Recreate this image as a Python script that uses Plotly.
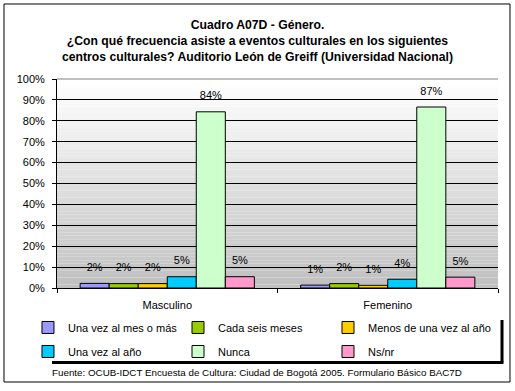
import plotly.graph_objects as go

categories = ["Masculino", "Femenino"]
series_names = ["Una vez al mes o más", "Cada seis meses", "Menos de una vez al año",
                "Una vez al año", "Nunca", "Ns/nr"]
masculino = [0.022, 0.021, 0.021, 0.054, 0.843, 0.054]
femenino = [0.014, 0.021, 0.013, 0.042, 0.866, 0.052]
colors = ["#9999FF", "#99CC00", "#FFCC00", "#00CCFF", "#CCFFCC", "#FF99CC"]
y_ticks = [0, 0.1, 0.2, 0.3, 0.4, 0.5, 0.6, 0.7, 0.8, 0.9, 1.0]
legend_column = ["legend", "legend2", "legend3", "legend", "legend2", "legend3"]

FONT = "Liberation Sans, Arial, sans-serif"

fig = go.Figure()
for i, name in enumerate(series_names):
    vals = [masculino[i], femenino[i]]
    fig.add_trace(go.Bar(
        x=categories, y=vals, name=name,
        legend=legend_column[i], legendgroup=name, offsetgroup=str(i),
        marker=dict(color=colors[i], line=dict(color="black", width=1)),
        hoverinfo="skip",
    ))
for i, name in enumerate(series_names):
    vals = [masculino[i], femenino[i]]
    fig.add_trace(go.Scatter(
        x=categories, y=vals, mode="markers+text", offsetgroup=str(i),
        text=[f"{v:.0%}" for v in vals], textposition="top center",
        textfont=dict(family=FONT, size=11, color="black"),
        marker=dict(size=14, opacity=0), showlegend=False, hoverinfo="skip",
        cliponaxis=False,
    ))

# gradient background for plot area
shapes = []
n = 60
for k in range(n):
    t = k / (n - 1)
    g = int(round(255 - (255 - 192) * (1 - t)))
    shapes.append(dict(type="rect", xref="paper", yref="paper",
                       x0=0, x1=1, y0=k / n, y1=(k + 1) / n,
                       fillcolor=f"rgb({g},{g},{g})", line=dict(width=0), layer="below"))
# gray top border of plot area
shapes.append(dict(type="line", xref="paper", yref="paper", x0=0, x1=1, y0=1, y1=1,
                   line=dict(color="#808080", width=1.2)))
# outer border
shapes.append(dict(type="rect", xref="paper", yref="paper", x0=-0.1202, x1=1.0272,
                   y0=-0.4498, y1=1.3589, line=dict(color="black", width=1)))
# legend shadow (right and bottom)
shapes.append(dict(type="line", xref="paper", yref="paper", x0=1.0091, x1=1.0091,
                   y0=-0.1531, y1=-0.3565, line=dict(color="black", width=3)))
shapes.append(dict(type="line", xref="paper", yref="paper", x0=-0.0113, x1=1.0124,
                   y0=-0.3565, y1=-0.3565, line=dict(color="black", width=3)))

leg_common = dict(orientation="v", xanchor="left", y=-0.1196, yanchor="top",
                  borderwidth=0, bgcolor="rgba(0,0,0,0)", font=dict(family=FONT, size=11),
                  itemwidth=30, traceorder="grouped", tracegroupgap=5)

fig.update_layout(
    width=515, height=391,
    margin=dict(l=57, r=17, t=79, b=103, autoexpand=False),
    paper_bgcolor="white", plot_bgcolor="rgba(0,0,0,0)",
    font=dict(family=FONT, size=11, color="black"),
    barmode="group", bargap=0.21, bargroupgap=0,
    scattermode="group", scattergap=0.21,
    title=dict(
        text="<b>Cuadro A07D - Género.<br>¿Con qué frecuencia asiste a eventos culturales en los siguientes<br>centros culturales? Auditorio León de Greiff (Universidad Nacional)</b>",
        x=0.5, xanchor="center", y=0.926, yanchor="top",
        font=dict(family=FONT, size=12.2, color="black"),
    ),
    yaxis=dict(range=[0, 1], tickvals=y_ticks, tickformat=".0%",
               showgrid=True, gridcolor="black", gridwidth=1,
               showline=True, linecolor="black", ticks="outside", ticklen=4,
               tickcolor="black", zeroline=False, ticklabelstandoff=5),
    xaxis=dict(showline=True, linecolor="black", ticks="outside", ticklen=4,
               tickson="boundaries", tickcolor="black", showgrid=False,
               ticklabelstandoff=7),
    legend=dict(x=-0.0658, **leg_common),
    legend2=dict(x=0.2744, **leg_common),
    legend3=dict(x=0.6145, **leg_common),
    shapes=shapes,
    annotations=[dict(text="Fuente: OCUB-IDCT Encuesta de Cultura: Ciudad de Bogotá 2005. Formulario Básico BAC7D",
                      xref="paper", yref="paper", x=0.454, y=-0.402, xanchor="center",
                      yanchor="middle", showarrow=False, font=dict(family=FONT, size=9.8))],
)

fig.write_html("out.html", config={"displayModeBar": False},
               post_script="document.body.style.margin='0';document.body.style.padding='0';")
